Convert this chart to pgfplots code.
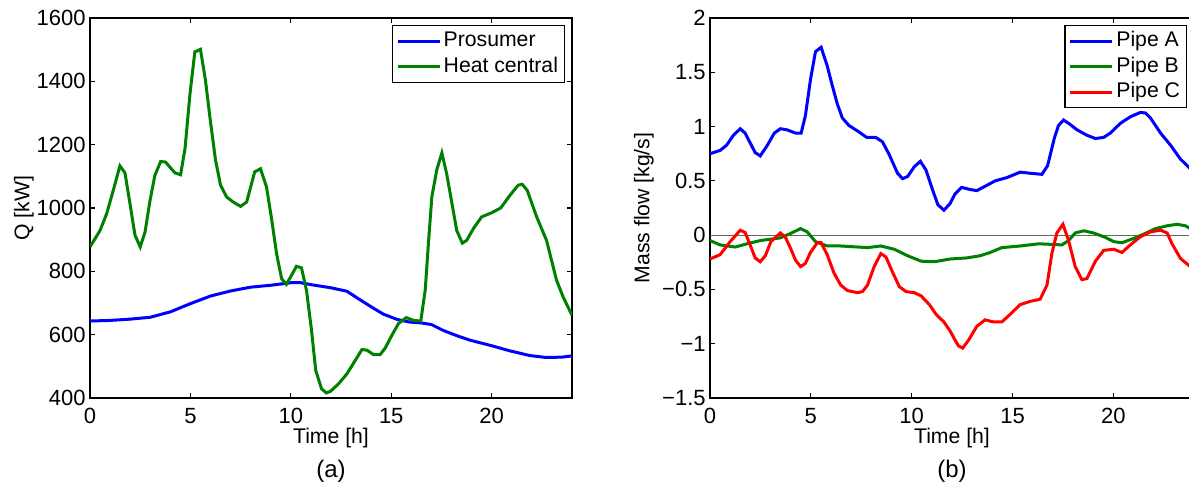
\documentclass[border=0pt]{standalone}
\usepackage{fontspec}
\setmainfont{Liberation Sans}
\usepackage{pgfplots}
\pgfplotsset{compat=1.18}

\definecolor{mblue}{RGB}{0,0,255}
\definecolor{mgreen}{RGB}{0,128,0}
\definecolor{mred}{RGB}{255,0,0}

\pgfplotsset{
  matlab/.style={
    scale only axis,
    height=190bp,
    anchor=south west,
    xmin=0, xmax=24,
    xtick={0,5,10,15,20},
    tick align=inside,
    tick pos=both,
    xticklabel pos=lower,
    yticklabel pos=left,
    major tick length=2.5bp,
    every tick/.style={black, line width=0.6bp},
    axis line style={line width=0.6bp},
    /pgf/number format/assume math mode=true,
    /pgf/number format/1000 sep={},
    every tick label/.append style={inner sep=1bp, font=\fontsize{11bp}{13bp}\selectfont},
    xticklabel style={yshift=-4bp},
    yticklabel style={xshift=-1bp},
    xlabel={Time [h]},
    xlabel style={at={([yshift=-23bp]axis description cs:0.5,0)}, anchor=base},
    ylabel style={at={([xshift=-33bp]axis description cs:0,0.5)}, anchor=center},
    legend cell align=left,
    legend style={
      at={([xshift=-3.5bp,yshift=-3.5bp]axis description cs:1,1)},
      anchor=north east,
      draw=black, line width=0.6bp,
      inner xsep=2bp, inner ysep=1.5bp, row sep=0pt,
      nodes={inner sep=1.2bp, text height=8bp, text depth=2.3bp},
    },
    legend image code/.code={\draw[#1, line width=1.5bp] (0bp,0bp) -- (21bp,0bp);},
    every axis plot/.append style={line width=1.5bp},
  }
}

\begin{document}
\fontsize{10.6bp}{12.6bp}\selectfont
\begin{tikzpicture}

% (a) heat demand
\begin{axis}[
    matlab,
    name=a,
    at={(45bp,44bp)},
    width=241bp,
    ymin=400, ymax=1600,
    ytick={400,600,...,1600},
    ylabel={Q [kW]},
  ]
  \addplot[mblue] coordinates {
    (0,643)(1,645)(2,649)(3,655)(4,672)(5,698)(6,722)(7,738)(8,750)(9,756)
    (10,764)(10.5,764)(11,758)(12,748)(12.8,737)(13.3,716)(14,688)(14.6,665)
    (15.3,648)(15.9,640)(16.5,637)(17,632)(17.6,613)(18.3,596)(18.9,583)
    (20,565)(20.9,549)(21.9,534)(22.7,528)(23.5,529)(24,533)
  };
  \addlegendentry{Prosumer}
  \addplot[mgreen] coordinates {
    (0,877)(0.5,929)(0.83,982)(1.16,1056)(1.49,1133)(1.74,1111)(1.99,1014)
    (2.24,914)(2.5,877)(2.74,924)(2.99,1024)(3.23,1103)(3.52,1147)(3.76,1145)
    (4.23,1111)(4.51,1105)(4.73,1187)(4.98,1361)(5.22,1493)(5.5,1501)(5.75,1403)
    (5.97,1287)(6.25,1151)(6.5,1072)(6.8,1035)(7.13,1019)(7.5,1005)(7.8,1019)
    (8.2,1114)(8.49,1124)(8.79,1066)(9.04,966)(9.29,856)(9.54,777)(9.78,759)
    (10.03,787)(10.28,816)(10.53,811)(10.78,740)(11.03,614)(11.24,487)
    (11.53,429)(11.77,416)(11.97,421)(12.38,445)(12.8,477)(13.21,519)
    (13.54,553)(13.79,551)(14.12,537)(14.45,537)(14.7,558)(15.03,598)
    (15.36,635)(15.75,654)(16.11,645)(16.47,643)(16.69,740)(16.85,887)
    (17.02,1035)(17.27,1121)(17.52,1174)(17.76,1108)(18.01,1019)(18.26,929)
    (18.54,889)(18.76,898)(19.09,935)(19.5,972)(20.0,985)(20.45,1000)
    (20.91,1040)(21.32,1072)(21.52,1075)(21.77,1056)(22.24,972)(22.73,898)
    (23.23,772)(23.56,719)(24,661)
  };
  \addlegendentry{Heat central}
\end{axis}

% (b) pipe mass flows
\begin{axis}[
    matlab,
    name=b,
    at={(355bp,44bp)},
    width=242bp,
    ymin=-1.5, ymax=2,
    ytick={-1.5,-1,-0.5,0,0.5,1,1.5,2},
    yticklabels={−1.5,−1,−0.5,0,0.5,1,1.5,2},
    ylabel={Mass flow [kg/s]},
  ]
  \addplot[forget plot, black!60, line width=0.6bp] coordinates {(0,0)(24,0)};
  \addplot[mblue] coordinates {
    (0,0.75)(0.5,0.78)(0.83,0.83)(1.16,0.92)(1.5,0.98)(1.74,0.94)(1.99,0.85)
    (2.24,0.76)(2.49,0.73)(2.82,0.82)(3.19,0.94)(3.49,0.98)(3.82,0.97)
    (4.24,0.94)(4.52,0.94)(4.73,1.10)(4.98,1.43)(5.23,1.69)(5.51,1.73)
    (5.81,1.56)(6.06,1.38)(6.31,1.21)(6.56,1.08)(6.89,1.01)(7.31,0.96)
    (7.77,0.90)(8.22,0.90)(8.55,0.86)(8.89,0.74)(9.3,0.57)(9.55,0.52)
    (9.8,0.54)(10.13,0.63)(10.43,0.68)(10.71,0.60)(11.05,0.41)(11.3,0.28)
    (11.6,0.23)(11.9,0.29)(12.15,0.38)(12.48,0.44)(12.9,0.42)(13.23,0.41)
    (13.64,0.45)(14.14,0.50)(14.72,0.53)(15.38,0.58)(15.88,0.57)(16.46,0.56)
    (16.74,0.64)(17.07,0.89)(17.28,1.01)(17.53,1.06)(17.78,1.03)(18.2,0.97)
    (18.69,0.92)(19.11,0.89)(19.52,0.90)(19.85,0.94)(20.35,1.03)(20.84,1.09)
    (21.34,1.13)(21.59,1.125)(21.84,1.08)(22.34,0.94)(22.83,0.83)(23.33,0.70)
    (23.82,0.61)(24,0.58)
  };
  \addlegendentry{Pipe A}
  \addplot[mgreen] coordinates {
    (0,-0.05)(0.5,-0.09)(1.25,-0.11)(1.83,-0.08)(2.49,-0.05)(3.49,-0.025)
    (3.99,0.015)(4.49,0.06)(4.82,0.03)(5.23,-0.06)(5.81,-0.10)(6.48,-0.10)
    (7.81,-0.115)(8.47,-0.10)(9.14,-0.13)(9.8,-0.19)(10.47,-0.24)(11.13,-0.245)
    (11.9,-0.22)(12.73,-0.21)(13.39,-0.19)(13.89,-0.16)(14.47,-0.115)
    (15.38,-0.10)(16.29,-0.08)(16.95,-0.085)(17.45,-0.09)(17.78,-0.05)
    (18.11,0.02)(18.53,0.04)(19.02,0.02)(19.6,-0.02)(20.02,-0.06)(20.43,-0.07)
    (21.01,-0.03)(21.51,0.01)(22.09,0.06)(22.67,0.086)(23.16,0.10)(23.58,0.086)
    (23.82,0.06)(24,0.04)
  };
  \addlegendentry{Pipe B}
  \addplot[mred] coordinates {
    (0,-0.22)(0.5,-0.18)(1.0,-0.06)(1.5,0.045)(1.74,0.025)(1.99,-0.09)
    (2.24,-0.21)(2.49,-0.245)(2.74,-0.19)(3.02,-0.06)(3.49,0.02)(3.74,-0.02)
    (3.99,-0.12)(4.24,-0.23)(4.49,-0.29)(4.73,-0.26)(4.98,-0.16)(5.32,-0.07)
    (5.51,-0.07)(5.81,-0.18)(6.15,-0.35)(6.48,-0.46)(6.81,-0.51)(7.31,-0.53)
    (7.56,-0.52)(7.81,-0.46)(8.14,-0.29)(8.47,-0.17)(8.72,-0.20)(9.05,-0.34)
    (9.39,-0.475)(9.72,-0.52)(10.13,-0.53)(10.47,-0.56)(10.88,-0.64)
    (11.21,-0.73)(11.6,-0.80)(11.93,-0.89)(12.1,-0.95)(12.32,-1.02)
    (12.53,-1.04)(12.81,-0.97)(13.23,-0.84)(13.64,-0.78)(14.06,-0.80)
    (14.47,-0.80)(14.88,-0.73)(15.38,-0.64)(15.88,-0.61)(16.37,-0.59)
    (16.71,-0.46)(16.95,-0.17)(17.2,0.02)(17.5,0.10)(17.78,-0.05)(18.11,-0.29)
    (18.44,-0.41)(18.69,-0.40)(19.11,-0.24)(19.52,-0.14)(20.02,-0.13)
    (20.43,-0.16)(20.84,-0.09)(21.34,-0.015)(21.84,0.03)(22.34,0.046)
    (22.67,0.02)(22.91,-0.08)(23.33,-0.215)(23.82,-0.29)(24,-0.30)
  };
  \addlegendentry{Pipe C}
\end{axis}

\node[anchor=base, font=\fontsize{12bp}{14bp}\selectfont] at ([yshift=-39.5bp]a.south) {(a)};
\node[anchor=base, font=\fontsize{12bp}{14bp}\selectfont] at ([yshift=-39.5bp]b.south) {(b)};

% the reference is cropped just inside the right frame of (b)
\pgfresetboundingbox
\useasboundingbox (0,0) rectangle (594.5bp,243bp);
\end{tikzpicture}
\end{document}
